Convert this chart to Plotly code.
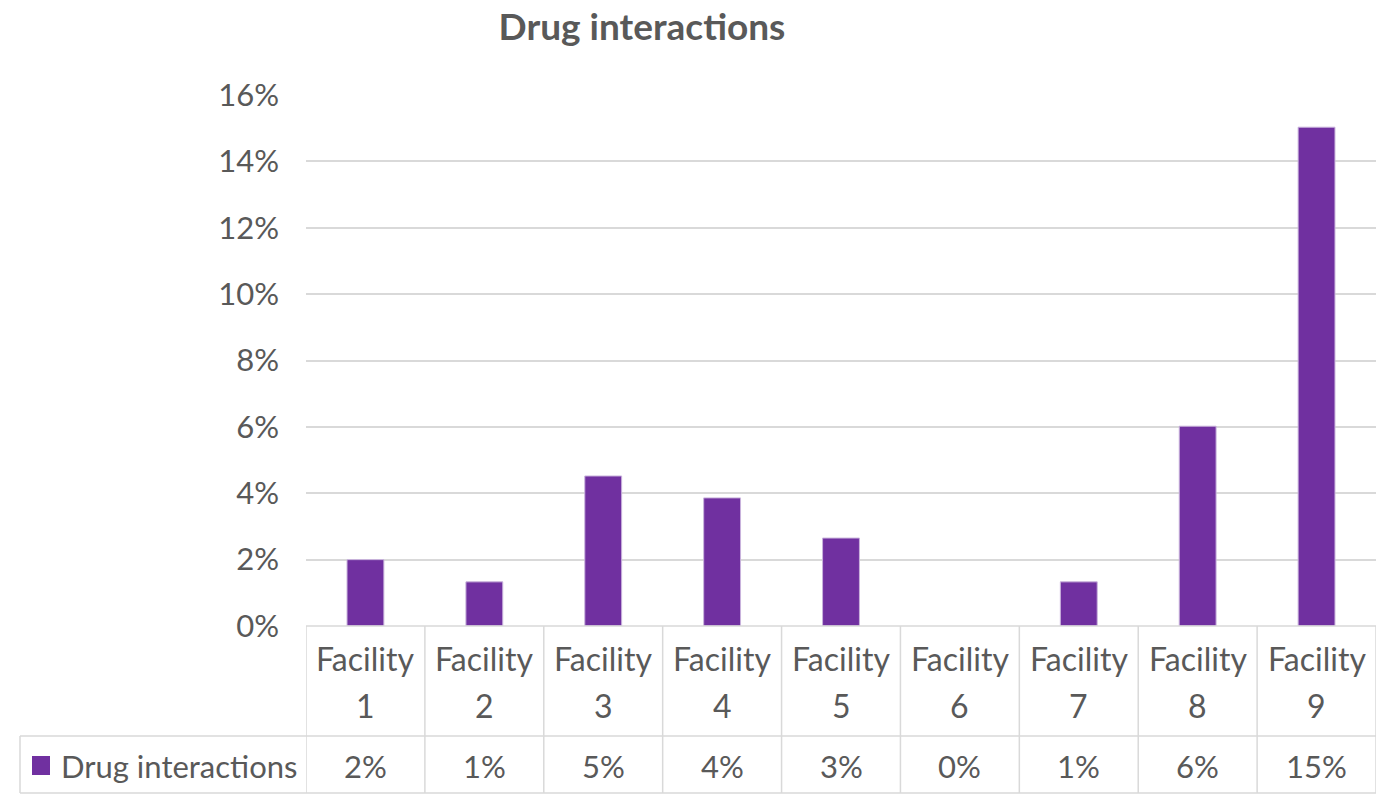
import plotly.graph_objects as go

categories = ["Facility 1", "Facility 2", "Facility 3", "Facility 4", "Facility 5",
              "Facility 6", "Facility 7", "Facility 8", "Facility 9"]
cat_line1 = ["Facility"] * 9
cat_line2 = ["1", "2", "3", "4", "5", "6", "7", "8", "9"]
values = [0.020, 0.0133, 0.0452, 0.0386, 0.0265, 0.0, 0.0133, 0.0602, 0.1503]
series_name = "Drug interactions"
y_ticks = [0, 0.02, 0.04, 0.06, 0.08, 0.10, 0.12, 0.14, 0.16]

PURPLE = "#7030A0"
GRAY = "#595959"
LINE = "#d9d9d9"
FONT = "Lato"

W, H = 1376, 795
L, R, T, B = 306, 0, 95, 169
plot_h = H - T - B
plot_w = W - L - R

def py(px):
    return (H - B - px) / plot_h

def pxr(px):
    return (px - L) / plot_w

fig = go.Figure()
fig.add_trace(go.Bar(
    x=categories, y=values, name=series_name,
    marker=dict(color=PURPLE, line=dict(color="#c9b3dc", width=[1 if v > 0 else 0 for v in values])),
    width=0.31, showlegend=False,
))

shapes = []
n = len(categories)
shapes.append(dict(type="line", xref="paper", yref="paper", x0=0, x1=1, y0=py(626), y1=py(626),
                   line=dict(color=LINE, width=1.5)))
for yy in (736, 793):
    shapes.append(dict(type="line", xref="paper", yref="paper", x0=pxr(20), x1=1, y0=py(yy), y1=py(yy),
                       line=dict(color=LINE, width=1.5)))
for i in range(n + 1):
    shapes.append(dict(type="line", xref="x", yref="paper", x0=i - 0.5, x1=i - 0.5,
                       y0=py(626), y1=py(793), line=dict(color=LINE, width=1.5)))
shapes.append(dict(type="line", xref="paper", yref="paper", x0=pxr(20), x1=pxr(20),
                   y0=py(736), y1=py(793), line=dict(color=LINE, width=1.5)))
shapes.append(dict(type="rect", xref="paper", yref="paper", x0=pxr(32), x1=pxr(50),
                   y0=py(775), y1=py(756), fillcolor=PURPLE, line=dict(width=0)))

annotations = []
for c, l1, l2, v in zip(categories, cat_line1, cat_line2, values):
    annotations.append(dict(x=c, xref="x", y=py(658), yref="paper", text=l1, showarrow=False,
                            font=dict(family=FONT, size=32, color=GRAY), yanchor="middle"))
    annotations.append(dict(x=c, xref="x", y=py(705), yref="paper", text=l2, showarrow=False,
                            font=dict(family=FONT, size=32, color=GRAY), yanchor="middle"))
    annotations.append(dict(x=c, xref="x", y=py(766), yref="paper", text=f"{v:.0%}", showarrow=False,
                            font=dict(family=FONT, size=31, color=GRAY), yanchor="middle"))
annotations.append(dict(x=pxr(59), xref="paper", y=py(766), yref="paper", text=series_name,
                        showarrow=False, xanchor="left", yanchor="middle",
                        font=dict(family=FONT, size=31, color=GRAY)))

fig.update_layout(
    width=W, height=H,
    margin=dict(l=L, r=R, t=T, b=B),
    paper_bgcolor="white", plot_bgcolor="white",
    title=dict(text="<b>Drug interactions</b>", x=642 / W, xanchor="center", y=1 - 27 / H, yanchor="middle",
               font=dict(family=FONT, size=37, color=GRAY)),
    xaxis=dict(type="category", range=[-0.5, n - 0.5], showticklabels=False, showgrid=False,
               zeroline=False, showline=False, ticks=""),
    yaxis=dict(range=[0, 0.16], tickvals=y_ticks, tickformat=".0%", showgrid=True, gridcolor=LINE,
               gridwidth=1.5, zeroline=False, showline=False, ticks="",
               tickfont=dict(family=FONT, size=31, color=GRAY), ticklabelstandoff=26),
    shapes=shapes, annotations=annotations,
    bargap=0.69,
)

fig.write_html("out.html", config={"displayModeBar": False},
               post_script="document.body.style.margin='0px';document.body.style.overflow='hidden';")
